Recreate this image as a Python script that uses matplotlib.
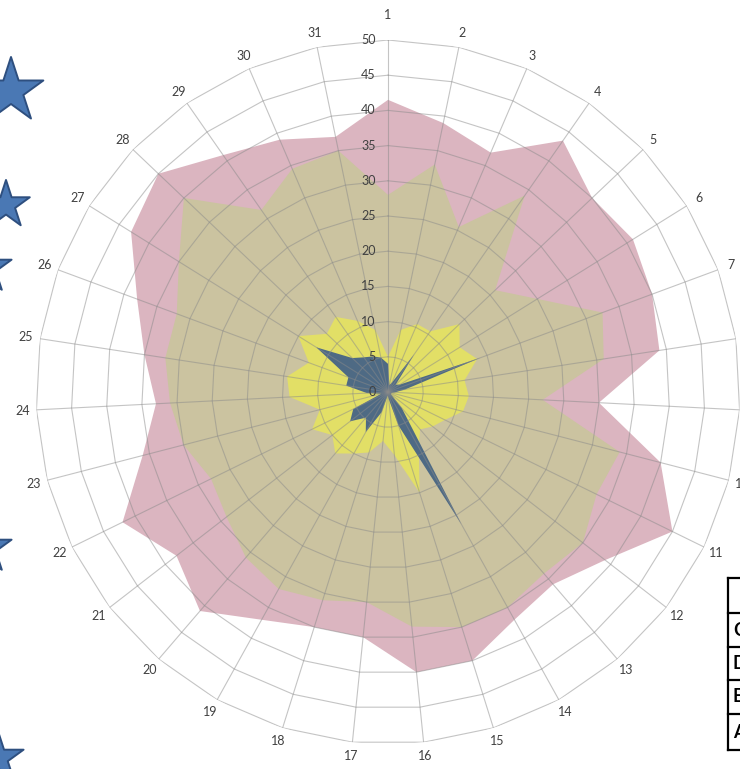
import numpy as np
import matplotlib
matplotlib.use("Agg")
import matplotlib.pyplot as plt

plt.rcParams["font.family"] = ["Lato", "DejaVu Sans"]

# --- data ---
categories = [str(i) for i in range(1, 32)]
pink = [41.5, 39, 37, 43.5, 40, 41, 40, 39, 30, 40, 45, 39, 36, 37, 40, 40,
        35, 35, 37, 41, 38, 42, 36, 33, 35, 38, 43, 45, 41, 39, 37]
khaki = [28, 33, 25.5, 34, 21, 25, 32.5, 31, 22, 34, 33, 35, 34, 35, 35, 33.5,
         30, 31, 32, 31, 29, 28, 30, 31, 32, 32, 35, 40, 31.5, 34.5, 35]
yellow = [5, 9, 10.5, 10.5, 14, 12, 13.5, 11, 11.5, 11, 9, 8, 7, 9, 15, 9,
          7, 9, 10, 11.5, 10, 12, 10, 14, 14.5, 12, 15, 12, 13, 11, 9]
blue = [4, 1, 1.5, 6.5, 1.5, 2, 14, 2.5, 1, 0.5, 0.5, 0.5, 3, 21.5, 5, 1,
        0.5, 3, 6.5, 4.8, 6.8, 5.5, 1, 3, 6, 6, 12, 7, 6, 5.5, 5]
rings = list(range(5, 55, 5))
radial_ticks = list(range(0, 55, 5))

series = [(pink, "#dbb5c0"), (khaki, "#cbc3a0"), (yellow, "#e2df66"), (blue, "#4e6a84")]

n = len(categories)
theta = np.arange(n) * 2 * np.pi / n


def closed(a):
    a = np.asarray(a, dtype=float)
    return np.append(a, a[0])


fig = plt.figure(figsize=(7.4, 7.69), dpi=100)
ax = fig.add_axes([36 / 740, 25 / 769, 704 / 740, 704 / 769], projection="polar")
ax.set_theta_offset(np.pi / 2)
ax.set_theta_direction(-1)
ax.set_ylim(0, 50)
ax.grid(False)
ax.spines["polar"].set_visible(False)
ax.set_xticks([])
ax.set_yticks([])

for z, (vals, col) in enumerate(series):
    ax.fill(closed(theta), closed(vals), color=col, lw=0, zorder=1 + z)

# polygon grid (Excel style) drawn over the fills
gcol = "#8a8a8a"
for r in rings:
    ax.plot(closed(theta), [r] * (n + 1), color=gcol, lw=0.8, alpha=0.5, zorder=6)
for t in theta:
    ax.plot([t, t], [0, 50], color=gcol, lw=0.8, alpha=0.5, zorder=6)

for v in radial_ticks:
    ax.annotate(str(v), xy=(0, v), xytext=(-9, 0), textcoords="offset points",
                ha="right", va="center", fontsize=9, color="#404040", zorder=8)

for t, lab in zip(theta, categories):
    r_lab = 53.6 if lab == "1" else 52.0
    ax.text(t, r_lab, lab, ha="center", va="center", fontsize=9, color="#404040")

# decorations: stars on the left edge, cut table bottom right
deco = fig.add_axes([0, 0, 1, 1])
deco.set_xlim(0, 740)
deco.set_ylim(769, 0)
deco.axis("off")
star_x = [11, 6, -14, -14, -2]
star_y = [91, 205, 268, 548, 758]
star_s = [2400, 1300, 1500, 1500, 1500]
deco.scatter(star_x, star_y, s=star_s, marker="*", c="#4a78b4",
             edgecolors="#2e4f7f", linewidths=1.4, zorder=3)

row_y = [578, 613, 647, 680, 714, 750]
deco.plot([728, 728], [row_y[0], row_y[-1]], color="k", lw=1.6)
for y in row_y:
    deco.plot([728, 760], [y, y], color="k", lw=1.6)
for lab, y0, y1 in zip(["C", "D", "E", "A"], row_y[1:-1], row_y[2:]):
    deco.text(733, (y0 + y1) / 2, lab, ha="left", va="center", fontsize=13,
              weight="bold", color="k")

fig.savefig("out.png", dpi=100, facecolor="white")
